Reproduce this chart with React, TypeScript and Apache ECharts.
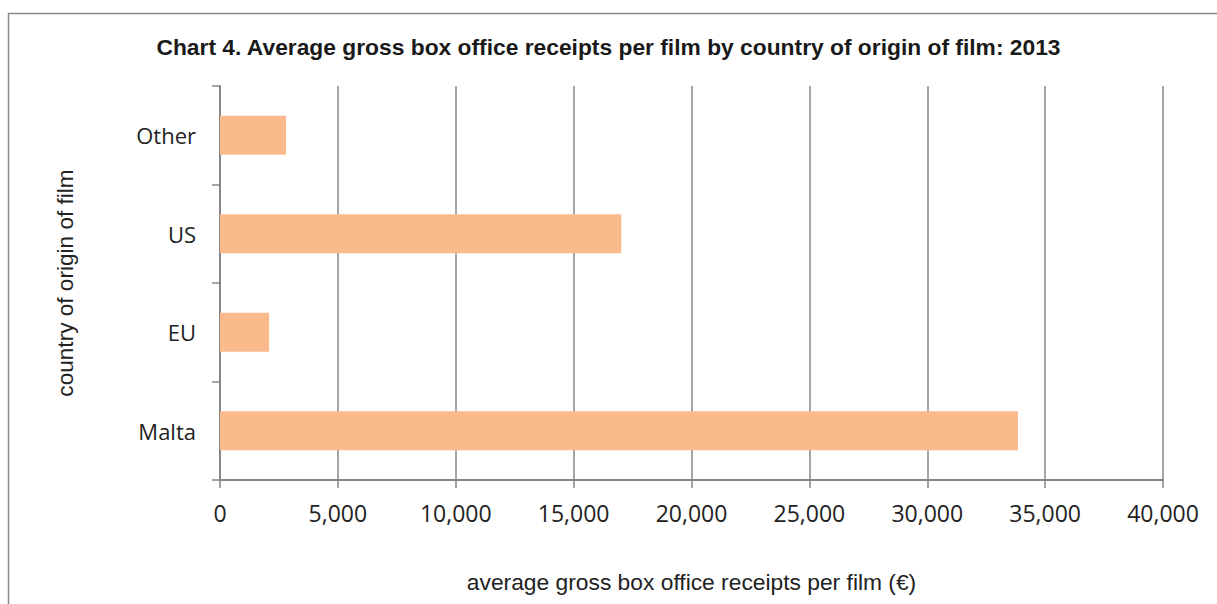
import React, { useEffect, useRef } from "react";
import * as echarts from "echarts";

const categories = ["Malta", "EU", "US", "Other"];
const values = [33850, 2080, 17020, 2800];
const xTicks = [0, 5000, 10000, 15000, 20000, 25000, 30000, 35000, 40000];
const title = "Chart 4. Average gross box office receipts per film by country of origin of film: 2013";
const xName = "average gross box office receipts per film (€)";
const yName = "country of origin of film";

export default function App() {
  const ref = useRef<HTMLDivElement>(null);
  useEffect(() => {
    const chart = echarts.init(ref.current!, null, { renderer: "svg" });
    chart.setOption({
      animation: false,
      backgroundColor: "#ffffff",
      title: {
        text: title,
        left: "center",
        top: 30,
        textStyle: { fontFamily: "Liberation Sans", fontWeight: "bold", fontSize: 22.8, color: "#1a1a1a" },
      },
      graphic: [
        {
          type: "rect",
          shape: { x: 8.5, y: 13.5, width: 1300, height: 700 },
          style: { fill: "none", stroke: "#8a8a8a", lineWidth: 1.5 },
          silent: true,
        },
      ],
      grid: { left: 220, right: 54, top: 86, bottom: 124, containLabel: false },
      xAxis: {
        type: "value",
        min: xTicks[0],
        max: xTicks[xTicks.length - 1],
        interval: 5000,
        name: xName,
        nameLocation: "middle",
        nameGap: 90,
        nameTextStyle: { fontFamily: "Liberation Sans", fontSize: 22.8, color: "#222" },
        axisLine: { show: true, lineStyle: { color: "#868686", width: 2 } },
        axisTick: { show: true, length: 8, lineStyle: { color: "#868686", width: 1.5 } },
        axisLabel: {
          margin: 21,
          fontFamily: "Open Sans",
          fontSize: 23,
          color: "#222",
          formatter: (v: number) => v.toLocaleString("en-US"),
        },
        splitLine: { show: true, lineStyle: { color: "#888888", width: 1.5 } },
      },
      yAxis: {
        type: "category",
        data: categories,
        name: yName,
        nameLocation: "middle",
        nameRotate: 90,
        nameGap: 143,
        nameTextStyle: { fontFamily: "Liberation Sans", fontSize: 22.6, color: "#222" },
        axisLine: { show: true, lineStyle: { color: "#868686", width: 2 } },
        axisTick: { show: true, length: 8, lineStyle: { color: "#868686", width: 1.5 } },
        axisLabel: { margin: 24, fontFamily: "Open Sans", fontSize: 22, color: "#222" },
        splitLine: { show: false },
      },
      series: [
        {
          type: "bar",
          data: values,
          barWidth: 39,
          itemStyle: { color: "#FBBA8C" },
        },
      ],
    });
    return () => chart.dispose();
  }, []);
  return <div ref={ref} style={{ position: "absolute", left: 0, top: 0, width: 1217, height: 604 }} />;
}
